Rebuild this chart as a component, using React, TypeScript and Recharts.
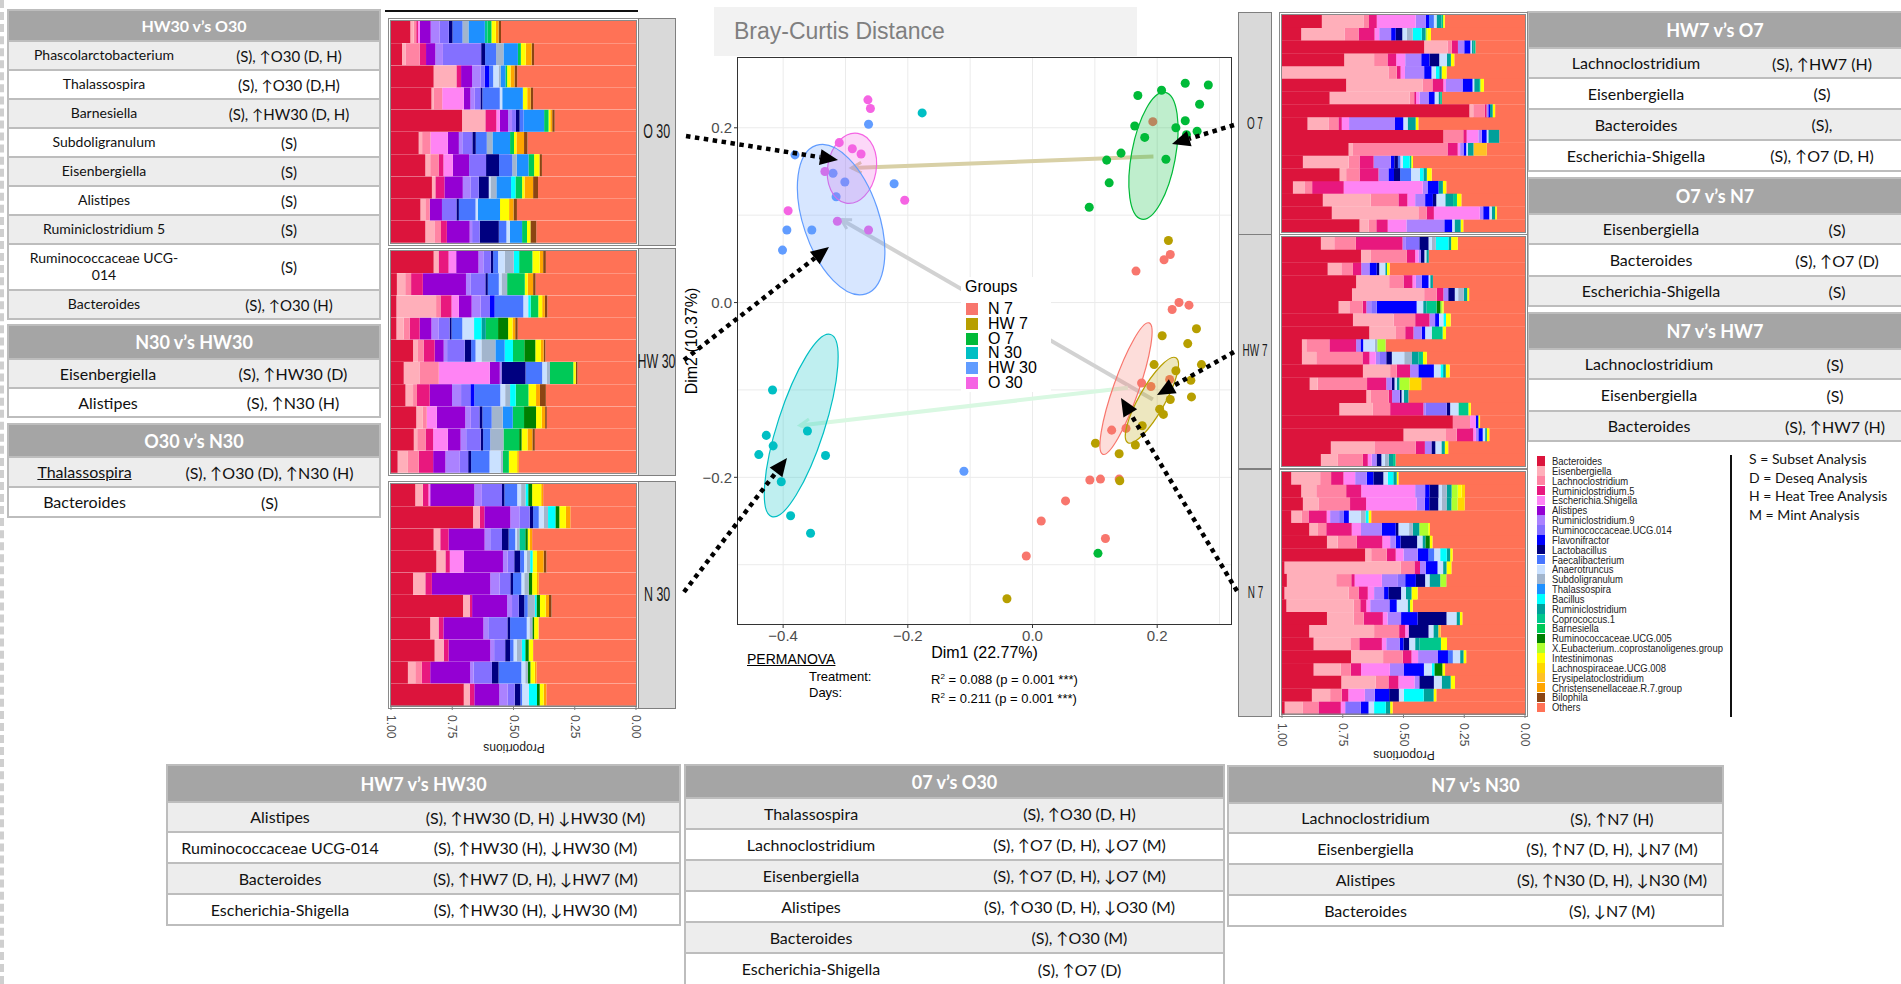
import React from 'react'
import {
  Bar,
  BarChart,
  CartesianGrid,
  Label,
  ReferenceLine,
  Scatter,
  ScatterChart,
  XAxis,
  YAxis,
} from 'recharts'

// ---------- taxa ----------
const TAXA = [
  'Bacteroides', 'Eisenbergiella', 'Lachnoclostridium', 'Ruminiclostridium.5', 'Escherichia.Shigella',
  'Alistipes', 'Ruminiclostridium.9', 'Ruminococcaceae.UCG.014', 'Flavonifractor', 'Lactobacillus',
  'Faecalibacterium', 'Anaerotruncus', 'Subdoligranulum', 'Thalassospira', 'Bacillus',
  'Ruminiclostridium', 'Coprococcus.1', 'Barnesiella', 'Ruminococcaceae.UCG.005',
  'X.Eubacterium..coprostanoligenes.group', 'Intestinimonas', 'Lachnospiraceae.UCG.008',
  'Erysipelatoclostridium', 'Christensenellaceae.R.7.group', 'Bilophila', 'Others',
]
const TAXA_KEYS = ['B', 'Ei', 'La', 'R5', 'Es', 'Al', 'R9', 'U14', 'Fl', 'Lb', 'Fa', 'An', 'Su', 'Th', 'Bc', 'Ru', 'Co', 'Ba', 'U05', 'Xe', 'In', 'L08', 'Er', 'Ch', 'Bi', 'Ot']
const TAXA_COLORS = [
  '#DC143C', '#FFAFBA', '#FF84A3', '#E8187E', '#FF84F4', '#9400D3', '#AB82FF', '#8470FF', '#0000FF', '#000080',
  '#4876FF', '#CAE1FF', '#A2B5CD', '#1E90FF', '#00FFFF', '#00A09A', '#00C78C', '#00C957', '#008000', '#ADFF2F',
  '#FFFF00', '#FFD700', '#FFC125', '#FFA500', '#8B4513', '#FF7256',
]

// relative abundance (%) per sample, "Others" is the remainder
const O30_ROWS = [
  { B: 7.9, Ei: 1.4, La: 1, R5: 0.7, Es: 0.8, Al: 4.4, R9: 3.7, U14: 3.7, Lb: 1.5, Fa: 4.1, Su: 2.4, Th: 6.7, Co: 1.1, Ba: 1.6, In: 1.8, Ch: 1.1, Bi: 1 },
  { B: 4.5, Ei: 1.4, La: 5.8, R5: 2.6, Al: 3.8, R9: 3.1, U14: 15.6, Lb: 1.6, Fa: 4.5, Su: 3, Th: 5.9, Ba: 1.2, In: 2, Ch: 2.4, Bi: 1 },
  { B: 17.4, Ei: 9.3, R5: 1.9, Al: 4.5, R9: 3.4, U14: 1.8, Fl: 1.8, Fa: 1.6, An: 2.2, Su: 0.8, Th: 2, Ba: 0.7, In: 1.4, Ch: 1.6, Bi: 1.1 },
  { B: 16.5, Ei: 1, La: 3.4, Es: 8.8, Al: 2.7, R9: 1.8, U14: 2.3, Lb: 0.8, Fa: 7.1, An: 1, Th: 8.4, In: 1.8, Ch: 1.4, Bi: 1 },
  { B: 29, Ei: 9.5, R5: 4.5, Es: 1.4, Al: 3.4, R9: 1.6, U14: 1.6, Lb: 1.5, Fa: 1.6, Th: 8.4, Ba: 1.8, In: 0.7, Ch: 0.8, Bi: 1 },
  { B: 11.3, Ei: 1.4, La: 3.4, Es: 7.1, Al: 4.5, R9: 1.4, U14: 4.1, Lb: 1.4, Fa: 4.5, Su: 2.3, Th: 7.2, Ba: 1.6, In: 1, Ch: 3.1, Bi: 1.4 },
  { B: 14, Ei: 2, La: 3.4, R5: 2, Es: 3.8, Al: 6.7, U14: 6.9, Lb: 5.3, Fa: 5.4, Su: 1.8, Th: 4.8, Ba: 2.3, In: 2.2, Bi: 1 },
  { B: 16.7, Ei: 1.4, R5: 3.7, Al: 7.5, R9: 3.1, U14: 3.4, Lb: 4.1, An: 0.7, Su: 2.4, Th: 6, Bc: 1.8, Ba: 2.7, In: 1, Ch: 3.5, Bi: 2 },
  { B: 12, Ei: 2, La: 1.8, Al: 5, U14: 5.9, Lb: 1, Fa: 6.8, An: 1, Th: 9, In: 3.7, Ch: 1.8, Bi: 1.4 },
  { B: 14, Ei: 3.7, La: 2.7, R5: 2.4, Al: 9.3, R9: 1, U14: 3.1, Lb: 7.8, Fa: 3.1, An: 1.4, Th: 5, Ba: 2, In: 1.4, Bi: 2.4 },
]
const HW30_ROWS = [
  { B: 17.4, Ei: 2, R5: 4.1, Es: 3.1, Al: 9.1, R9: 2, U14: 3, Lb: 1, Fa: 2, An: 2.7, Su: 3.7, Bc: 2.2, Ba: 5.4, In: 3, Ch: 1.4, Bi: 1.1 },
  { B: 2.4, Ei: 3.4, La: 2.4, R5: 4.8, Al: 17.6, R9: 1.8, U14: 6.1, Lb: 1, Fa: 4.5, An: 1.1, Su: 2.3, Ba: 7.2, In: 1.2, Ch: 2.2, Bi: 1 },
  { B: 2.2, Ei: 16.2, La: 1.8, R5: 4.5, Es: 3, Al: 5.2, R9: 3.7, U14: 3.8, Fl: 1.9, Fa: 11.7, An: 2, Bc: 1, Ba: 3.1, In: 1.6, Ch: 1.1, Bi: 1 },
  { B: 2.2, Ei: 3, La: 2.4, R5: 4.1, Al: 4.8, R9: 3, U14: 4.4, Lb: 0.8, Fa: 4.4, An: 4.8, Bc: 3, Ru: 1.8, Ba: 5, U05: 4.1, In: 1.8, Ch: 1.1, Bi: 1 },
  { B: 9, Ei: 2, La: 2.3, R5: 4.5, Al: 3.7, R9: 1.4, U14: 7.2, Lb: 2.6, Fa: 1.8, An: 2.4, Su: 5.7, Th: 3.8, Bc: 3.4, Ba: 4.6, U05: 4.5, In: 2.3, Ch: 1.1, Bi: 0.7 },
  { B: 5.2, Ei: 6.4, La: 7.9, Es: 20.8, Al: 4.1, R9: 0.7, Lb: 9.8, Fa: 6.8, An: 1.8, Su: 1.4, Ba: 9.5, In: 1, Bi: 0.7 },
  { B: 5.9, Ei: 3.1, La: 1.6, R5: 5.2, Al: 9.1, R9: 3.7, U14: 3.8, Fl: 1.6, Fa: 10.6, An: 2, Su: 2, Bc: 2.3, Ba: 5.2, In: 3.1, Ch: 1.6, Bi: 2.4 },
  { B: 10.3, Ei: 2.7, La: 1.6, Es: 4.1, Al: 11.6, R9: 2.3, U14: 3.5, Lb: 1.2, Fa: 3.8, Su: 4.5, Th: 4.1, Ba: 4.6, U05: 4.9, In: 2.3, Ch: 1.4, Bi: 0.7 },
  { B: 9.3, Ei: 1.4, La: 3.4, R5: 3.1, Es: 6, Al: 5.2, R9: 2.3, U14: 5.9, Lb: 1, Fa: 2.9, Su: 5.4, Ba: 6.4, U05: 1, In: 2.4, Ch: 2, Bi: 1 },
  { B: 2.7, Ei: 4.2, La: 4.4, R5: 5.9, Al: 5, R9: 5.9, U14: 3.4, Lb: 1.2, Fa: 7.5, An: 4.5, Su: 1, Ba: 2.4, In: 3.4, Ch: 0.7 },
]
const N30_ROWS = [
  { B: 9.9, Ei: 3.1, R5: 2.3, Es: 0.7, Al: 18, R9: 3.1, U14: 8.2, Lb: 1, Fa: 5.2, An: 1.6, Su: 1.8, Bc: 1.1, U05: 1.6, In: 3.7, Ch: 0.8 },
  { B: 33.5, Ei: 2.7, R5: 1.9, Al: 10.6, R9: 3.7, U14: 4.2, Lb: 1.4, Fa: 2.3, An: 2, Su: 1.8, Bc: 3, U05: 1.6, In: 2.7, Ch: 1.8 },
  { B: 17.4, Ei: 2.7, R5: 3.4, Al: 14.7, R9: 2.3, U14: 4.8, Lb: 2.7, Fa: 2.7, An: 0.7, Su: 1, Co: 2.4, U05: 1, In: 0.8, Ch: 1 },
  { B: 18.5, Ei: 3.7, R5: 1.8, Es: 5.7, Al: 16, R9: 1.9, U14: 2.7, Lb: 2.4, Fa: 1.6, An: 1.1, Su: 1.4, Bc: 1, In: 1.8, Ch: 2.7, Bi: 1.1 },
  { B: 9, Ei: 5, R5: 2.7, Al: 23.8, R9: 3.8, U14: 4.4, Lb: 1.1, Fa: 3.4, An: 1.2, Su: 1.8, U05: 1.4, In: 2, Ch: 0.7 },
  { B: 29.4, Ei: 2.7, R5: 1, Al: 14.3, R9: 2, U14: 2.7, Lb: 2.3, Fa: 1.4, Su: 2.9, Bc: 0.7, U05: 1.4, In: 2.3, Ch: 1.4, Bi: 1 },
  { B: 16, Ei: 3.4, R5: 2, Al: 16.3, R9: 2, U14: 7.8, Lb: 1.1, Fa: 6.8, An: 1.1, Su: 1.2, U05: 0.7, In: 1.8 },
  { B: 17.8, Ei: 3.7, R5: 2, Al: 17, R9: 1.6, U14: 4.5, Lb: 2, Fa: 1.4, An: 1.4, Su: 2, Bc: 1.4, U05: 1.4, In: 1.8 },
  { B: 6.9, Ei: 3, La: 2.7, R5: 3.4, Al: 16.3, R9: 1.4, U14: 7.5, Lb: 2.7, Fa: 9.3, An: 1.6, Su: 1, U05: 1.1, In: 1.8, Ch: 0.7 },
  { B: 29.7, Ei: 2.4, R5: 1.9, Al: 10.2, R9: 3.4, U14: 2.9, Lb: 2.3, Fa: 0.7, An: 2.7, Bc: 3.4, U05: 1.1, In: 1.6, Ch: 1.1 },
]
const O7_ROWS = [
  { B: 16.4, Ei: 17.1, La: 2.3, R5: 3.2, Es: 16, R9: 4.1, Fl: 1.4, Fa: 2, An: 1.1, Ru: 2, Co: 0.7, In: 0.7 },
  { B: 7.9, Ei: 17.8, La: 5.8, R5: 6.6, Es: 1.9, R9: 4.9, Fl: 1.9, Lb: 2.7, An: 1.8, Su: 2.5, Bc: 3.7, Ru: 1.6, Xe: 0.7, In: 1.5 },
  { B: 58.5, Ei: 9.6, La: 1.8, R5: 2.5, R9: 2.6, Fl: 2.5, An: 0.7, Ru: 0.7, Co: 0.7 },
  { B: 25.6, Ei: 12.3, La: 5.5, R5: 3.6, Es: 3.7, R9: 6.6, Fl: 3.4, Lb: 4, An: 3.2, Ru: 1.6, In: 1.4 },
  { Ei: 43.8, La: 3.4, R5: 1.6, Es: 1.8, R9: 7.9, Fl: 3, An: 1.8, Bc: 1.4, Ru: 1, In: 2 },
  { B: 26.4, Ei: 31.4, La: 4.1, R5: 4.5, Es: 1.1, R9: 6.8, Fl: 4.1, An: 0.7, Ru: 2, Co: 0.5, In: 1.5 },
  { B: 19.6, Ei: 32.9, La: 1.9, R5: 0.8, Es: 1.4, R9: 3.7, Fl: 2.5, An: 1.6, Ru: 0.7, Co: 0.7 },
  { B: 77.1, Ei: 1.6, La: 4.8, R5: 0.7, R9: 0.7, Fl: 0.7, Ru: 1.1, In: 1 },
  { B: 10.5, Ei: 8.6, La: 4.1, R5: 1.4, Es: 3, R9: 18.9, Fl: 3.4, An: 1.8, Ru: 3.3, In: 1.1 },
  { B: 66.4, La: 8.2, R5: 1.4, Es: 4.8, R9: 1.4, Fl: 2, An: 0.7, Ru: 4.5 },
  { B: 27.4, Ei: 1.8, La: 38.9, R5: 4.2, Es: 1, R9: 1.4, Fl: 1.1, An: 0.7, Ru: 2.3, Er: 5.5 },
  { B: 8.6, Ei: 18.8, La: 4.5, R5: 5.8, R9: 7.1, Fl: 1.4, Lb: 1.5, Fa: 1, An: 1.1, Bc: 2.7, Co: 0.7, In: 0.7 },
  { B: 23.7, Ei: 2.7, La: 5.5, R5: 7.8, R9: 4.1, Fl: 2.3, Lb: 2.5, Fa: 4.5, An: 3.7, Bc: 1.4, Ru: 1.4, In: 2 },
  { B: 4.5, Ei: 4.7, La: 3.2, R5: 13, Es: 32.5, R9: 2, Fl: 4.5, Ru: 1.8, In: 1.4 },
  { B: 16.8, Ei: 19.7, La: 11.4, R5: 3.7, Es: 3.2, R9: 4.1, Fl: 3.2, Lb: 1.4, An: 3.7, Ru: 3.2, Co: 1.6, In: 1.8 },
  { B: 20.5, Ei: 35.6, La: 3.4, R5: 3, Es: 18.9, R9: 1.4, Fl: 2.5, An: 1, Ru: 1.4, In: 0.7 },
  { B: 31.9, Ei: 3.7, La: 3.2, R5: 4.7, Es: 7.7, R9: 15.6, Fl: 3.2, An: 1, Ru: 2.5, In: 1.1 },
]
const HW7_ROWS = [
  { B: 16, Ei: 5.5, La: 8.9, R5: 19.2, R9: 1.4, U14: 5.5, Lb: 3.8, An: 1.4, Su: 1.6, Bc: 5.2, Ru: 1.1, In: 2.7 },
  { B: 32.5, Ei: 4.1, La: 14.8, R5: 3.4, Es: 1.4, R9: 1, Lb: 1.4, An: 0.8, Ru: 1 },
  { B: 18.8, Ei: 5.6, La: 4.8, R5: 3.4, R9: 3.4, Fl: 3, Lb: 1, An: 2.5, Ru: 0.7, In: 1.1 },
  { B: 30.5, Ei: 13.6, La: 5.9, R5: 3.7, Es: 1.4, R9: 2.5, Fl: 2.7, An: 0.7, Ru: 1.1 },
  { B: 28.8, Ei: 29.7, La: 5.2, R5: 2.7, R9: 2, Lb: 2.7, An: 1.4, Su: 2.3, Ru: 1.4, In: 0.8 },
  { B: 23.3, Ei: 4.4, La: 5.5, R5: 1.5, R9: 2, U14: 2.3, Fl: 16.4, An: 2.7, Ru: 1.4, Co: 4.1, U05: 1.6, Xe: 0.8, In: 0.5 },
  { B: 29.2, Ei: 16.7, La: 8.9, R5: 5.9, R9: 2.3, Fl: 1.6, An: 1.8, Bc: 1.1, In: 1.9 },
  { B: 35.9, Ei: 11, La: 3.8, R5: 3.4, R9: 3.4, Fl: 1.4, An: 2.7, Co: 4.5, In: 1.4 },
  { B: 8.2, Ei: 1.8, La: 9.5, R5: 11, R9: 1.8, Fl: 1.1, An: 4.8, Su: 1, Xe: 3.4 },
  { B: 8.2, Ei: 5.9, La: 19, R5: 2.9, Es: 2.6, R9: 1.4, U14: 2.9, Lb: 2.3, An: 5.1, Su: 3.2, Ru: 2.7, Co: 1.8, In: 1.6 },
  { B: 33.3, Ei: 11.2, La: 2.7, R5: 5.5, R9: 3.4, Fl: 6.4, An: 2.7, Bc: 1.1, Ru: 1.1, In: 1.6 },
  { B: 11.4, Ei: 3.3, La: 20.3, R5: 7.9, R9: 2.3, Lb: 1.1, An: 1, Ru: 1, Xe: 4.1, L08: 4.9 },
  { B: 34.7, Ei: 1.9, La: 7.3, R5: 1.4, R9: 3.2, Lb: 0.7, An: 1, Ru: 1.8 },
  { B: 23.6, Ei: 13.8, La: 7.1, R5: 13.7, R9: 1, U14: 8.6, Lb: 1.4, An: 3.4, Co: 4.1, In: 1 },
  { B: 70.3, La: 7.1, Es: 2.3, Fl: 1.1, In: 0.7 },
  { B: 50, Ei: 17.5, La: 4.4, R5: 6.8, Es: 1.1, R9: 1, Fl: 1.8, An: 1, Ru: 0.7, In: 1 },
  { B: 20.1, Ei: 17.9, La: 17, R5: 3.8, R9: 2.7, Lb: 1.6, An: 2.5, Ru: 1.4, In: 1.4 },
  { B: 16, Ei: 7, La: 10.3, R5: 2, Es: 1.6, R9: 2, Lb: 2, An: 1.4, Su: 1.6, Ru: 1.8, Co: 1 },
]
const N7_ROWS = [
  { B: 3.8, Ei: 11.9, La: 4.5, R5: 5.1, Es: 4.8, R9: 4.8, Fl: 2.7, Lb: 4.1, An: 1.8, Bc: 2.3, Ru: 1.4, In: 0.7 },
  { B: 7.9, Ei: 6.2, La: 12.3, R5: 6.2, Es: 22.2, R9: 4.1, Fl: 1.8, Lb: 3.7, An: 1.4, Su: 2, Ru: 2, Xe: 2.5, In: 1.6, L08: 1.4 },
  { B: 8.6, Ei: 6.4, La: 13, R5: 6.6, Es: 20.8, R9: 3.4, Fl: 1.8, Lb: 3.7, An: 1.4, Su: 2, Ru: 2, Xe: 2.5, L08: 3 },
  { B: 3.8, Ei: 4.4, La: 2.7, R5: 7.5, Es: 1.4, R9: 3.7, U14: 2, Fl: 2, An: 4.9, Su: 2, Bc: 1.2, In: 1.1 },
  { B: 11.2, Ei: 3.6, La: 3.4, R5: 10.5, Es: 3.8, R9: 8.5, Fl: 5.8, Lb: 1.1, An: 4.4, Su: 1.5, Ru: 2.7, Xe: 3.7, In: 0.7 },
  { B: 18.5, Ei: 4.4, La: 7.9, R5: 10.5, Es: 3.2, R9: 2.3, Fl: 2, Lb: 6.8, An: 2.2, Ru: 1.2, U05: 1.8, In: 1.1 },
  { B: 34.2, Ei: 2.5, La: 6.4, R5: 3.7, Es: 3.2, R9: 5.9, Fl: 4.4, Fa: 2.3, An: 2.5, Bc: 2.7, Ru: 1.4, In: 1 },
  { B: 1, Ei: 47.9, La: 5.6, R5: 2.3, R9: 2.3, Fl: 4.9, An: 2.3, Ru: 1.4, In: 2 },
  { B: 2, Ei: 20.3, La: 6.2, R5: 1.4, Es: 11.2, R9: 6.6, U14: 3, Fl: 4.4, Lb: 3.8, An: 1.8, Ru: 4.4, Xe: 2.5 },
  { B: 1, Ei: 26.4, La: 4.1, R5: 3.8, Es: 2.6, R9: 4.1, Fl: 1.8, Lb: 5.2, An: 2, Ru: 2.3, In: 2.5 },
  { B: 1.8, Ei: 27.7, La: 2.7, R5: 2.5, Es: 1.6, R9: 7.9, Fl: 3, An: 4.5, Ru: 1, In: 1.1 },
  { B: 18.5, Ei: 11, La: 4.1, R5: 7.9, Es: 1.9, R9: 5.6, Fl: 6.8, Lb: 11.9, An: 4.1, Ru: 1.4, In: 1 },
  { B: 11.2, Ei: 26.7, La: 10.3, R5: 2.5, Es: 1.4, Lb: 8.2, An: 2, Ru: 2, Er: 1 },
  { B: 13, Ei: 15.1, La: 3.7, R5: 9.3, Es: 1.8, R9: 5.5, Fl: 1.6, Lb: 2.3, An: 2.5, Ru: 1.8, Co: 8.8, In: 2.5 },
  { B: 28.4, Ei: 13.2, La: 8.1, R5: 3.6, Es: 2.7, R9: 8.2, Fl: 4.1, Fa: 2, An: 3, Ru: 1.4, In: 1.1 },
  { B: 13, Ei: 11.2, La: 4.1, R5: 4.2, Es: 11.9, R9: 5.8, Fl: 8.2, An: 3.2, Bc: 1.1, U05: 3.3, In: 1.1 },
  { B: 24.4, Ei: 14.2, La: 5.2, R5: 4.1, Es: 6.6, R9: 2, Lb: 6, An: 3.2, Ru: 3.7, In: 1.8 },
  { B: 12.3, Ei: 7.5, La: 4.8, R5: 2.7, Es: 6.8, R9: 4.1, Fl: 5.9, Lb: 4, An: 2, Bc: 8.2, Ru: 4.1, In: 1.1 },
  { B: 1.1, Ei: 7.5, La: 6.4, R5: 9.2, Es: 1.8, U14: 6.4, Fl: 3.2, An: 2.3, Bc: 4.8, Ru: 1.8, In: 1 },
]
const PROP_TICKS = [0, 25, 50, 75, 100]

// ---------- ordination ----------
const GROUPS = ['N 7', 'HW 7', 'O 7', 'N 30', 'HW 30', 'O 30']
const GROUP_COLORS = ['#F8766D', '#B79F00', '#00BA38', '#00BFC4', '#619CFF', '#F564E3']
const N7_PTS = [[0.193, 0.207], [0.221, 0.055], [0.211, 0.049], [0.166, 0.036], [0.235, 0.0], [0.251, -0.003], [0.224, -0.008], [0.175, -0.092], [0.19, -0.096], [0.22, -0.088], [0.127, -0.146], [0.15, -0.144], [0.092, -0.203], [0.109, -0.202], [0.139, -0.202], [0.053, -0.227], [0.014, -0.25], [0.117, -0.27], [-0.01, -0.29]]
const HW7_PTS = [[0.218, 0.071], [0.263, -0.03], [0.208, -0.038], [0.249, -0.047], [0.271, -0.071], [0.254, -0.089], [0.255, -0.108], [0.23, -0.078], [0.195, -0.071], [0.221, -0.111], [0.204, -0.122], [0.21, -0.128], [0.101, -0.161], [0.139, -0.173], [0.165, -0.163], [0.176, -0.141], [0.14, -0.204], [-0.041, -0.339]]
const O7_PTS = [[0.169, 0.237], [0.207, 0.243], [0.245, 0.251], [0.282, 0.249], [0.268, 0.227], [0.245, 0.208], [0.23, 0.2], [0.264, 0.196], [0.247, 0.192], [0.164, 0.202], [0.18, 0.189], [0.142, 0.171], [0.119, 0.163], [0.214, 0.164], [0.123, 0.137], [0.091, 0.109], [0.105, -0.287]]
const N30_PTS = [[-0.177, 0.217], [-0.417, -0.1], [-0.427, -0.152], [-0.416, -0.164], [-0.439, -0.174], [-0.361, -0.147], [-0.332, -0.175], [-0.403, -0.205], [-0.388, -0.244], [-0.356, -0.264]]
const HW30_PTS = [[-0.263, 0.204], [-0.381, 0.169], [-0.32, 0.148], [-0.301, 0.138], [-0.315, 0.121], [-0.222, 0.136], [-0.394, 0.083], [-0.354, 0.083], [-0.401, 0.06], [-0.11, -0.193]]
const O30_PTS = [[-0.264, 0.232], [-0.26, 0.222], [-0.31, 0.183], [-0.289, 0.176], [-0.275, 0.17], [-0.333, 0.15], [-0.205, 0.117], [-0.392, 0.105], [-0.313, 0.093], [-0.263, 0.083]]
const GROUP_POINTS = [N7_PTS, HW7_PTS, O7_PTS, N30_PTS, HW30_PTS, O30_PTS]

// confidence ellipses: centre, semi-axis vectors u and v (data units)
const ELLIPSES = [
  { g: 2, x: 0.194, y: 0.168, ux: 0.019, uy: 0.0726, vx: 0.0346, vy: -0.0047 },
  { g: 5, x: -0.2896, y: 0.1537, ux: 0.0096, uy: 0.04, vx: 0.0384, vy: -0.0046 },
  { g: 4, x: -0.307, y: 0.0949, ux: -0.04, uy: 0.0849, vx: 0.0576, vy: 0.0138 },
  { g: 3, x: -0.371, y: -0.1408, ux: 0.0472, uy: 0.1042, vx: 0.0357, vy: -0.0082 },
  { g: 0, x: 0.15, y: -0.0985, ux: 0.0371, uy: 0.0752, vx: 0.0192, vy: -0.0048 },
  { g: 1, x: 0.1915, y: -0.1118, ux: 0.0386, uy: 0.0486, vx: 0.0181, vy: -0.0073 },
]
// day 7 -> day 30 centroid shifts
const SHIFTS = [
  { x1: 0.194, y1: 0.167, x2: -0.29, y2: 0.154, color: '#D8D0A6' },
  { x1: 0.193, y1: -0.111, x2: -0.307, y2: 0.095, color: '#D2D2D2' },
  { x1: 0.153, y1: -0.0975, x2: -0.373, y2: -0.1406, color: '#D9F8E2' },
]
const X_DOM = [-0.474, 0.32]
const Y_DOM = [-0.369, 0.281]
const X_TICKS = [-0.4, -0.2, 0, 0.2]
const Y_TICKS = [-0.2, 0, 0.2]
const GRID_X = [-0.4, -0.3, -0.2, -0.1, 0, 0.1, 0.2, 0.3]
const GRID_Y = [-0.3, -0.2, -0.1, 0, 0.1, 0.2]

// ---------- tables ----------
const T_HW30_O30 = [
  ['Phascolarctobacterium', '(S), ↑O30 (D, H)'],
  ['Thalassospira', '(S), ↑O30 (D,H)'],
  ['Barnesiella', '(S), ↑HW30 (D, H)'],
  ['Subdoligranulum', '(S)'],
  ['Eisenbergiella', '(S)'],
  ['Alistipes', '(S)'],
  ['Ruminiclostridium 5', '(S)'],
  ['Ruminococcaceae UCG-\n014', '(S)'],
  ['Bacteroides', '(S), ↑O30 (H)'],
]
const T_N30_HW30 = [['Eisenbergiella', '(S), ↑HW30 (D)'], ['Alistipes', '(S), ↑N30 (H)']]
const T_O30_N30 = [['Thalassospira', '(S), ↑O30 (D), ↑N30 (H)'], ['Bacteroides', '(S)']]
const T_HW7_O7 = [
  ['Lachnoclostridium', '(S), ↑HW7 (H)'],
  ['Eisenbergiella', '(S)'],
  ['Bacteroides', '(S),'],
  ['Escherichia-Shigella', '(S), ↑O7 (D, H)'],
]
const T_O7_N7 = [['Eisenbergiella', '(S)'], ['Bacteroides', '(S), ↑O7 (D)'], ['Escherichia-Shigella', '(S)']]
const T_N7_HW7 = [['Lachnoclostridium', '(S)'], ['Eisenbergiella', '(S)'], ['Bacteroides', '(S), ↑HW7 (H)']]
const T_HW7_HW30 = [
  ['Alistipes', '(S), ↑HW30 (D, H) ↓HW30 (M)'],
  ['Ruminococcaceae UCG-014', '(S), ↑HW30 (H), ↓HW30 (M)'],
  ['Bacteroides', '(S), ↑HW7 (D, H), ↓HW7 (M)'],
  ['Escherichia-Shigella', '(S), ↑HW30 (H), ↓HW30 (M)'],
]
const T_O7_O30 = [
  ['Thalassospira', '(S), ↑O30 (D, H)'],
  ['Lachnoclostridium', '(S), ↑O7 (D, H), ↓O7 (M)'],
  ['Eisenbergiella', '(S), ↑O7 (D, H), ↓O7 (M)'],
  ['Alistipes', '(S), ↑O30 (D, H), ↓O30 (M)'],
  ['Bacteroides', '(S), ↑O30 (M)'],
  ['Escherichia-Shigella', '(S), ↑O7 (D)'],
]
const T_N7_N30 = [
  ['Lachnoclostridium', '(S), ↑N7 (H)'],
  ['Eisenbergiella', '(S), ↑N7 (D, H), ↓N7 (M)'],
  ['Alistipes', '(S), ↑N30 (D, H), ↓N30 (M)'],
  ['Bacteroides', '(S), ↓N7 (M)'],
]
const METHOD_KEY = ['S = Subset Analysis', 'D = Deseq Analysis', 'H = Heat Tree Analysis', 'M = Mint Analysis']

// ---------- layout ----------
const SANS = '"Liberation Sans", Arial, sans-serif'
const TABLE_FONT = 'Lato, "Noto Sans", sans-serif'
const SC = { left: 678, top: 57, w: 557, h: 608, ml: 12, yW: 47, xH: 40, mr: 3 }
const KX = (SC.w - SC.ml - SC.yW - SC.mr) / (X_DOM[1] - X_DOM[0])
const KY = (SC.h - SC.xH) / (Y_DOM[1] - Y_DOM[0])

const COLOR_OF: Record<string, string> = {}
TAXA_KEYS.forEach((k, i) => (COLOR_OF[k] = TAXA_COLORS[i]))
const STACK_ORDER = [...TAXA_KEYS].reverse()

function toStack(rows: Record<string, number>[]) {
  return rows.map((r, i) => {
    const o: Record<string, any> = { id: `s${i + 1}` }
    let sum = 0
    TAXA_KEYS.slice(0, -1).forEach((k) => {
      const v = r[k] ?? 0
      o[k] = v
      sum += v
    })
    o.Ot = Math.max(0, 100 - sum)
    return o
  })
}

const PropTick = (p: any) => (
  <text
    transform={`translate(${p.x - 4},${p.y + 3}) rotate(90)`}
    fontSize={12}
    fill="#4D4D4D"
    fontFamily={SANS}
    textAnchor="start"
  >
    {(p.payload.value / 100).toFixed(2)}
  </text>
)

function StackPanel({ rows, x, top, w, h, axis }: any) {
  const axisH = axis ? 34 : 0
  return (
    <div style={{ position: 'absolute', left: x - 6, top }}>
      <BarChart
        width={w + 12}
        height={h + axisH}
        data={toStack(rows)}
        layout="vertical"
        margin={{ top: 0, right: 6, bottom: 0, left: 6 }}
        barCategoryGap={0}
      >
        <XAxis
          type="number"
          domain={[0, 100]}
          reversed
          hide={!axis}
          ticks={PROP_TICKS}
          interval={0}
          height={axisH || 30}
          tick={PropTick}
          tickSize={4}
          tickLine={{ stroke: '#7F7F7F' }}
          axisLine={{ stroke: '#7F7F7F' }}
        />
        <YAxis type="category" dataKey="id" hide />
        {STACK_ORDER.map((k) => (
          <Bar key={k} dataKey={k} stackId="p" fill={COLOR_OF[k]} isAnimationActive={false} />
        ))}
      </BarChart>
    </div>
  )
}

function PanelColumn({ panels, barX, barW, stripX, stripW, stripFs, labelY }: any) {
  return (
    <>
      {panels.map((p: any, i: number) => (
        <React.Fragment key={p.label}>
          <div
            style={{
              position: 'absolute', left: barX - 3, top: p.top - 3, width: barW + 6, height: p.h + 6,
              border: '3px double #8A8A8A', boxSizing: 'border-box',
            }}
          />
          <div
            style={{
              position: 'absolute', left: stripX, top: p.top - 3, width: stripW, height: p.h + 6,
              background: '#D9D9D9', border: '1px solid #7F7F7F', boxSizing: 'border-box',
              display: 'flex', alignItems: 'center', justifyContent: 'center',
            }}
          >
            <span style={{ fontFamily: SANS, fontSize: stripFs, color: '#1A1A1A', transform: 'scaleX(0.62)', whiteSpace: 'nowrap' }}>
              {p.label}
            </span>
          </div>
          <StackPanel rows={p.rows} x={barX} top={p.top} w={barW} h={p.h} axis={i === panels.length - 1} />
        </React.Fragment>
      ))}
      <div
        style={{
          position: 'absolute', left: barX + barW / 2 - 40, top: labelY, width: 80, textAlign: 'center',
          fontFamily: SANS, fontSize: 12, color: '#1A1A1A', transform: 'rotate(180deg)',
        }}
      >
        Proportions
      </div>
    </>
  )
}

function StatTable({ title, rows, left, top, width, col1, headH, rowHs, fs1, fs2, hfs, underline }: any) {
  const cell = { display: 'flex', alignItems: 'center', justifyContent: 'center', textAlign: 'center' as const }
  return (
    <div
      style={{
        position: 'absolute', left, top, width, border: '2px solid #BDBDBD', boxSizing: 'border-box',
        background: '#fff', fontFamily: TABLE_FONT, color: '#111',
      }}
    >
      <div style={{ ...cell, height: headH, background: '#A5A5A5', color: '#fff', fontWeight: 700, fontSize: hfs }}>{title}</div>
      {rows.map((r: string[], i: number) => (
        <div
          key={i}
          style={{
            display: 'flex', height: rowHs[i], borderTop: '2px solid #BDBDBD', boxSizing: 'border-box',
            background: i % 2 === 0 ? '#EDEDED' : '#fff',
          }}
        >
          <div
            style={{
              ...cell, width: col1, fontSize: fs1, whiteSpace: 'pre-line', lineHeight: 1.2,
              textDecoration: underline === i ? 'underline' : 'none',
            }}
          >
            {r[0]}
          </div>
          <div style={{ ...cell, flex: 1, fontSize: fs2, whiteSpace: 'nowrap' }}>{r[1]}</div>
        </div>
      ))}
    </div>
  )
}

const fmtDim = (v: number) => (v < 0 ? '−' : '') + Math.abs(v).toFixed(1)

const EllipseShape = (p: any) => {
  const e = p.payload
  if (!e || typeof p.cx !== 'number') return <g />
  const c = GROUP_COLORS[e.g]
  const m = [e.ux * KX, -e.uy * KY, e.vx * KX, -e.vy * KY, p.cx, p.cy].join(' ')
  return (
    <ellipse
      cx={0} cy={0} rx={1} ry={1}
      transform={`matrix(${m})`}
      fill={c} fillOpacity={0.25} stroke={c} strokeWidth={1.2}
      vectorEffect="non-scaling-stroke"
    />
  )
}

const shiftShape = (color: string) => (p: any) => {
  const { x1, y1, x2, y2 } = p
  if ([x1, y1, x2, y2].some((v) => typeof v !== 'number' || isNaN(v))) return <g />
  const a = Math.atan2(y2 - y1, x2 - x1)
  const L = 11
  const h1 = `${x2 - L * Math.cos(a - 0.5)},${y2 - L * Math.sin(a - 0.5)}`
  const h2 = `${x2 - L * Math.cos(a + 0.5)},${y2 - L * Math.sin(a + 0.5)}`
  return (
    <g>
      <line x1={x1} y1={y1} x2={x2} y2={y2} stroke={color} strokeWidth={4} />
      <polyline points={`${h1} ${x2},${y2} ${h2}`} fill="none" stroke={color} strokeWidth={3} />
    </g>
  )
}

function Ordination() {
  const plotW = SC.w - SC.ml - SC.yW - SC.mr
  const plotH = SC.h - SC.xH
  const gridV = (args: any) => {
    const o = args?.offset ?? { left: SC.ml + SC.yW, width: plotW }
    return GRID_X.map((v) => o.left + ((v - X_DOM[0]) * o.width) / (X_DOM[1] - X_DOM[0]))
  }
  const gridH = (args: any) => {
    const o = args?.offset ?? { top: 0, height: plotH }
    return GRID_Y.map((v) => o.top + ((Y_DOM[1] - v) * o.height) / (Y_DOM[1] - Y_DOM[0]))
  }
  return (
    <div style={{ position: 'absolute', left: SC.left, top: SC.top }}>
      <ScatterChart width={SC.w} height={SC.h} margin={{ top: 0, right: SC.mr, bottom: 0, left: SC.ml }}>
        <CartesianGrid stroke="#EBEBEB" verticalCoordinatesGenerator={gridV} horizontalCoordinatesGenerator={gridH} />
        <XAxis
          type="number" dataKey="x" domain={X_DOM} ticks={X_TICKS} allowDataOverflow height={SC.xH}
          tickFormatter={fmtDim} tickSize={3} axisLine={false}
          tickLine={{ stroke: '#333' }} tick={{ fill: '#4D4D4D', fontSize: 15, fontFamily: SANS }}
        >
          <Label value="Dim1 (22.77%)" position="insideBottom" offset={7} fontSize={16} fill="#000" fontFamily={SANS} />
        </XAxis>
        <YAxis
          type="number" dataKey="y" domain={Y_DOM} ticks={Y_TICKS} allowDataOverflow width={SC.yW}
          tickFormatter={fmtDim} tickSize={3} axisLine={false}
          tickLine={{ stroke: '#333' }} tick={{ fill: '#4D4D4D', fontSize: 15, fontFamily: SANS }}
        >
          <Label
            value="Dim2 (10.37%)" angle={-90} position="insideLeft" offset={1}
            style={{ textAnchor: 'middle' }} fontSize={16} fill="#000" fontFamily={SANS}
          />
        </YAxis>
        {GROUPS.map((g, i) => (
          <Scatter
            key={g} name={g} data={GROUP_POINTS[i].map(([x, y]) => ({ x, y }))}
            fill={GROUP_COLORS[i]} isAnimationActive={false}
          />
        ))}
        <Scatter data={ELLIPSES} shape={EllipseShape} isAnimationActive={false} />
        {SHIFTS.map((s, i) => (
          <ReferenceLine
            key={i}
            segment={[{ x: s.x1, y: s.y1 }, { x: s.x2, y: s.y2 }]}
            shape={shiftShape(s.color)}
          />
        ))}
      </ScatterChart>
    </div>
  )
}

const POINTERS = [
  [[686, 136], [838, 160]],
  [[684, 360], [829, 247]],
  [[684, 592], [787, 458]],
  [[1234, 125], [1172, 144]],
  [[1234, 352], [1157, 395]],
  [[1237, 591], [1121, 398]],
]

function Pointers() {
  return (
    <svg width={1901} height={984} style={{ position: 'absolute', left: 0, top: 0, pointerEvents: 'none' }}>
      {POINTERS.map(([[x1, y1], [x2, y2]], i) => {
        const a = Math.atan2(y2 - y1, x2 - x1)
        const L = 18
        const bx = x2 - L * Math.cos(a)
        const by = y2 - L * Math.sin(a)
        const px = 8 * Math.sin(a)
        const py = -8 * Math.cos(a)
        return (
          <g key={i}>
            <line x1={x1} y1={y1} x2={bx} y2={by} stroke="#000" strokeWidth={4.5} strokeDasharray="4.5 4.5" />
            <polygon points={`${x2},${y2} ${bx + px},${by + py} ${bx - px},${by - py}`} fill="#000" />
          </g>
        )
      })}
    </svg>
  )
}

const LEFT_PANELS = [
  { label: 'O 30', rows: O30_ROWS, top: 20.5, h: 222 },
  { label: 'HW 30', rows: HW30_ROWS, top: 250.5, h: 222 },
  { label: 'N 30', rows: N30_ROWS, top: 483.5, h: 222 },
]
const RIGHT_PANELS = [
  { label: 'O 7', rows: O7_ROWS, top: 15, h: 217 },
  { label: 'HW 7', rows: HW7_ROWS, top: 236.5, h: 229.5 },
  { label: 'N 7', rows: N7_ROWS, top: 471.5, h: 242 },
]

export default function App() {
  return (
    <div
      style={{
        position: 'absolute', left: 0, top: 0, width: 1901, height: 984, overflow: 'hidden',
        background: '#fff', fontFamily: SANS,
      }}
    >
      <div style={{ position: 'absolute', left: 0, top: 0, width: 0, height: 984, borderLeft: '4px dashed #CFCFCF' }} />

      {/* left tables */}
      <StatTable title="HW30 v’s O30" rows={T_HW30_O30} left={7} top={9} width={374} col1={190} headH={29}
        rowHs={[29, 29, 29, 29, 29, 29, 29, 46, 29]} fs1={14} fs2={15} hfs={16} />
      <StatTable title="N30 v’s HW30" rows={T_N30_HW30} left={7} top={324} width={374} col1={198} headH={32}
        rowHs={[29, 29]} fs1={16} fs2={16} hfs={18} />
      <StatTable title="O30 v’s N30" rows={T_O30_N30} left={7} top={423} width={374} col1={151} headH={31}
        rowHs={[30, 30]} fs1={16} fs2={16} hfs={18} underline={0} />

      {/* right tables */}
      <StatTable title="HW7 v’s O7" rows={T_HW7_O7} left={1527} top={11} width={376} col1={214} headH={34}
        rowHs={[30, 31, 31, 31]} fs1={16} fs2={16} hfs={18} />
      <StatTable title="O7 v’s N7" rows={T_O7_N7} left={1527} top={177} width={376} col1={244} headH={34}
        rowHs={[30, 32, 30]} fs1={16} fs2={16} hfs={18} />
      <StatTable title="N7 v’s HW7" rows={T_N7_HW7} left={1527} top={312} width={376} col1={240} headH={34}
        rowHs={[30, 32, 30]} fs1={16} fs2={16} hfs={18} />

      {/* bottom tables */}
      <StatTable title="HW7 v’s HW30" rows={T_HW7_HW30} left={166} top={764} width={515} col1={224} headH={35}
        rowHs={[30, 31, 31, 31]} fs1={16} fs2={16} hfs={18} />
      <StatTable title="07 v’s O30" rows={T_O7_O30} left={684} top={764} width={541} col1={250} headH={31}
        rowHs={[31, 31, 31, 31, 31, 32]} fs1={16} fs2={16} hfs={18} />
      <StatTable title="N7 v’s N30" rows={T_N7_N30} left={1227} top={765} width={497} col1={273} headH={35}
        rowHs={[30, 31, 31, 31]} fs1={16} fs2={16} hfs={18} />

      {/* stacked composition panels */}
      <div style={{ position: 'absolute', left: 385, top: 10, width: 253, height: 2, background: '#111' }} />
      <PanelColumn panels={LEFT_PANELS} barX={391} barW={245} stripX={638} stripW={38} stripFs={20} labelY={741} />
      <PanelColumn panels={RIGHT_PANELS} barX={1282} barW={243} stripX={1238} stripW={34} stripFs={16} labelY={748} />

      {/* ordination */}
      <div
        style={{
          position: 'absolute', left: 714, top: 7, width: 423, height: 49, background: '#F2F2F2',
          display: 'flex', alignItems: 'center', paddingLeft: 20, boxSizing: 'border-box',
          fontSize: 23, color: '#7F7F7F',
        }}
      >
        Bray-Curtis Distance
      </div>
      <Ordination />
      <div
        style={{
          position: 'absolute', left: 737, top: 57, width: 495, height: 568, border: '1px solid #333',
          boxSizing: 'border-box', pointerEvents: 'none',
        }}
      />
      <div style={{ position: 'absolute', left: 961, top: 277, width: 90, height: 115, background: '#fff' }}>
        <div style={{ position: 'absolute', left: 4, top: 1, fontSize: 16, lineHeight: '18px' }}>Groups</div>
        {GROUPS.map((g, i) => (
          <div key={g} style={{ position: 'absolute', left: 5, top: 25 + i * 14.8, display: 'flex', alignItems: 'center', height: 14 }}>
            <span style={{ width: 12, height: 12, background: GROUP_COLORS[i], display: 'inline-block' }} />
            <span style={{ marginLeft: 10, fontSize: 16, lineHeight: '14px' }}>{g}</span>
          </div>
        ))}
      </div>
      <div style={{ position: 'absolute', left: 747, top: 651, fontSize: 14, textDecoration: 'underline', fontWeight: 400 }}>
        PERMANOVA
      </div>
      <div style={{ position: 'absolute', left: 809, top: 669, fontSize: 13, lineHeight: '16px' }}>
        <div>Treatment:</div>
        <div>Days:</div>
      </div>
      <div style={{ position: 'absolute', left: 931, top: 669, fontSize: 13, lineHeight: '16px', whiteSpace: 'nowrap' }}>
        <div>R<sup style={{ fontSize: 8 }}>2</sup> = 0.088 (p = 0.001 ***)</div>
        <div>R<sup style={{ fontSize: 8 }}>2</sup> = 0.211 (p = 0.001 ***)</div>
      </div>

      <Pointers />

      {/* taxa legend */}
      <div style={{ position: 'absolute', left: 1537, top: 456 }}>
        {TAXA.map((n, i) => (
          <div key={n} style={{ position: 'absolute', left: 0, top: i * 9.85, display: 'flex', alignItems: 'center', height: 10 }}>
            <span style={{ width: 8, height: 9.5, background: TAXA_COLORS[i], display: 'inline-block', flex: 'none' }} />
            <span
              style={{
                marginLeft: 7, fontSize: 11, lineHeight: '10px', color: '#222', whiteSpace: 'nowrap',
                transform: 'scaleX(0.86)', transformOrigin: 'left center',
              }}
            >
              {n}
            </span>
          </div>
        ))}
      </div>
      <div style={{ position: 'absolute', left: 1730, top: 455, width: 2, height: 262, background: '#111' }} />
      <div style={{ position: 'absolute', left: 1749, top: 450, fontFamily: TABLE_FONT, fontSize: 14, lineHeight: '18.7px', color: '#111' }}>
        {METHOD_KEY.map((m) => (
          <div key={m}>{m}</div>
        ))}
      </div>
    </div>
  )
}
